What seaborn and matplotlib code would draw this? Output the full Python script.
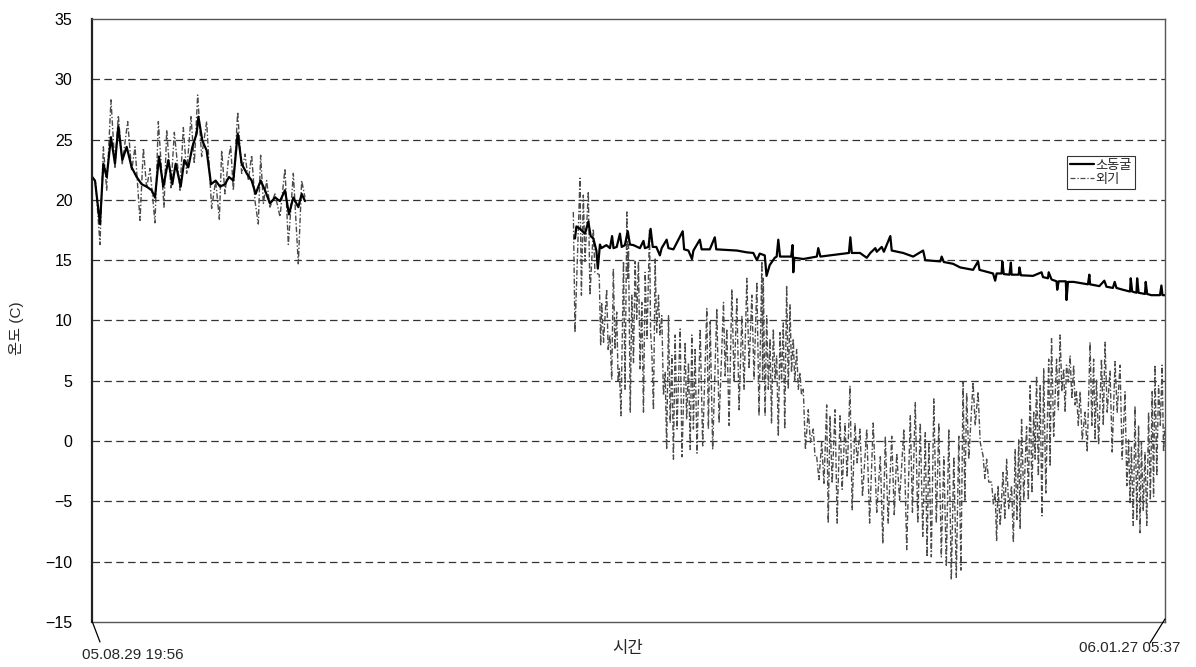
import pandas as pd
import matplotlib
matplotlib.use("Agg")
import matplotlib.pyplot as plt
from matplotlib.lines import Line2D
import seaborn as sns

# 측정 시작 / 끝
start = pd.Timestamp("2005-08-29 19:56")
end = pd.Timestamp("2006-01-27 05:37")

# 1구간 (8월 말 ~ 9월 말), 시작부터 경과 일수
out1_day = [0.0, 0.5, 1.12, 1.59, 2.06, 2.66, 3.22, 3.69, 4.25, 5.0, 5.56, 6.03, 6.73, 7.2,
            7.66, 8.13, 8.83, 9.3, 10.09, 10.47, 11.07, 11.54, 12.34, 12.8, 13.27, 13.88,
            14.34, 14.81, 15.37, 16.07, 16.77, 17.33, 17.85, 18.18, 18.64, 19.11, 19.44,
            19.81, 20.42, 20.98, 21.45, 21.91, 22.38, 22.85, 23.31, 23.64, 24.02, 24.48,
            24.95, 25.65, 26.35, 27.05, 27.52, 28.22, 28.92, 29.39, 29.86]
out1_temp = [22.0, 21.5, 16.3, 24.4, 20.8, 28.3, 22.7, 27.0, 23.0, 26.5, 22.4, 24.4, 18.3, 24.3,
             21.0, 22.6, 18.1, 26.5, 19.4, 25.8, 21.0, 25.6, 20.8, 26.0, 22.2, 26.9,
             23.0, 28.7, 23.6, 26.5, 19.3, 21.6, 18.4, 24.1, 20.5, 23.3, 24.5,
             20.8, 27.3, 22.2, 23.8, 21.6, 23.7, 19.9, 18.0, 23.7, 19.7, 21.6,
             19.4, 20.5, 18.6, 22.6, 16.3, 22.2, 14.7, 21.6, 20.2]

cave1_day = [0.0, 0.42, 1.12, 1.59, 2.06, 2.66, 3.22, 3.69, 4.25, 4.86, 5.56, 6.26, 6.96, 7.66,
             8.36, 8.83, 9.39, 10.0, 10.7, 11.26, 11.73, 12.43, 12.94, 13.5, 14.07, 14.67,
             14.91, 15.47, 16.07, 16.68, 17.33, 17.95, 18.64, 19.2, 19.81, 20.42, 20.98,
             21.68, 22.38, 22.94, 23.64, 24.25, 24.95, 25.65, 26.35, 27.05, 27.61, 28.22,
             28.92, 29.39, 29.86]
cave1_temp = [21.9, 21.6, 18.0, 23.0, 21.9, 25.2, 23.0, 26.1, 23.3, 24.4, 22.7, 21.9, 21.3, 21.1,
              20.8, 20.2, 23.6, 21.1, 23.3, 21.3, 23.0, 21.1, 23.3, 22.7, 24.4, 25.5,
              26.9, 24.9, 24.1, 21.3, 21.6, 21.1, 21.3, 21.9, 21.6, 25.5, 23.0,
              22.2, 21.6, 20.5, 21.6, 20.8, 19.7, 20.2, 19.9, 20.8, 18.8, 20.2,
              19.4, 20.5, 19.9]

# 2구간 (11월 초 ~ 1월 말)
cave2_day = [67.7, 67.9, 68.4, 69.1, 69.57, 69.9, 70.27, 70.7, 70.9, 71.2, 71.4, 72.1, 72.6,
             72.9, 73.1, 73.55, 74.0, 74.25, 74.7, 75.1, 75.4, 75.9, 76.8, 77.3, 77.5, 78.0,
             78.3, 78.6, 79.1, 79.6, 79.85, 80.55, 80.8, 81.5, 82.8, 83.0, 83.6, 84.1, 84.3,
             85.2, 85.45, 86.6, 87.3, 87.5, 88.95, 90.4, 91.8, 92.7, 93.2, 93.6, 94.3, 94.55,
             95.0, 95.7, 95.97, 96.2, 96.44, 96.7, 98.0, 98.2, 98.3, 98.45, 99.7, 101.6,
             101.8, 102.1, 104.85, 106.1, 106.3, 106.5, 107.65, 108.6, 109.1, 109.8, 110.0,
             110.7, 111.0, 111.9, 112.1, 113.7, 115.1, 116.5, 116.8, 118.9, 119.1, 119.4,
             120.7, 121.7, 123.5, 124.2, 124.4, 126.3, 126.6, 126.8, 127.5, 127.6, 127.8,
             128.6, 128.8, 128.9, 129.9, 130.0, 130.2, 131.9, 133.1, 133.3, 134.0, 134.1,
             134.5, 135.2, 135.3, 135.5, 136.5, 136.6, 136.8, 137.6, 139.6, 139.8, 139.9,
             141.2, 141.9, 142.2, 143.1, 143.35, 143.6, 144.5, 145.5, 145.6, 145.8, 146.4,
             146.5, 146.7, 147.6, 147.7, 147.9, 148.5, 149.7, 149.9, 150.05, 150.4]
cave2_temp = [16.8, 17.8, 17.6, 17.2, 18.2, 17.0, 16.8, 15.8, 14.3, 16.3, 16.0, 16.25, 16.0,
              17.0, 16.0, 16.1, 17.2, 16.1, 16.25, 17.4, 16.3, 16.25, 16.0, 16.6, 16.0, 16.1,
              17.6, 16.1, 16.1, 15.4, 16.0, 16.7, 16.0, 15.9, 17.4, 15.9, 15.8, 15.1, 15.8,
              16.7, 15.9, 15.9, 16.9, 15.9, 15.85, 15.8, 15.65, 15.6, 15.0, 15.55, 15.4, 13.7,
              14.6, 15.2, 15.3, 16.7, 15.3, 15.3, 15.3, 16.25, 14.0, 15.2, 15.1, 15.3,
              16.0, 15.3, 15.5, 15.6, 16.9, 15.6, 15.6, 15.2, 15.6, 16.0, 15.7,
              16.1, 15.7, 17.0, 15.8, 15.6, 15.3, 15.8, 15.0, 14.9, 15.3, 14.85,
              14.7, 14.4, 14.2, 14.9, 14.2, 13.9, 13.3, 13.9, 13.9, 14.9, 13.85,
              13.8, 14.8, 13.8, 13.8, 14.4, 13.75, 13.7, 14.0, 13.6, 13.5, 14.0,
              13.4, 13.25, 12.55, 13.25, 13.25, 11.7, 13.2, 13.2, 13.0, 13.8, 13.0,
              12.85, 13.3, 12.8, 12.7, 13.2, 12.7, 12.55, 12.4, 13.5, 12.4, 12.3,
              13.5, 12.3, 12.2, 13.2, 12.2, 12.1, 12.1, 12.9, 12.1, 12.1]

out_nov_day = [67.47, 67.7, 68.4, 68.6, 68.87, 69.1, 69.57, 69.8, 70.27, 70.5, 71.1, 71.3,
               71.44, 71.7, 72.14, 72.35, 72.6, 72.85, 73.08, 73.3, 73.55, 73.75, 73.92, 74.15,
               74.5, 74.72, 74.97, 75.1, 75.2, 75.45, 75.67, 75.9, 76.13, 76.35, 76.6, 76.82,
               77.07, 77.3, 77.54, 77.8, 78.15, 78.3, 78.47, 78.7, 78.94, 79.15, 79.41, 79.6,
               79.87, 80.1, 80.34, 80.55, 80.81, 81.05, 81.28, 81.5, 81.74, 82.0, 82.44, 82.7,
               83.14, 83.35, 83.61, 83.85, 84.08, 84.3, 84.54, 84.8, 85.25, 85.6, 86.18, 86.4,
               86.65, 87.0, 87.58, 87.9, 88.52, 88.75, 88.98, 89.3, 89.69, 90.0, 90.39, 90.7,
               91.09, 91.4, 91.79, 92.1, 92.49, 92.8, 93.19, 93.5, 93.9, 94.0]
out_nov_temp = [19.0, 9.0, 21.8, 12.1, 20.4, 14.9, 20.7, 12.1, 17.6, 14.0, 13.8, 7.9,
                11.5, 8.2, 12.6, 7.6, 8.8, 5.1, 14.3, 7.6, 10.7, 4.9, 6.0, 2.1,
                14.9, 4.3, 19.0, 13.5, 16.3, 2.4, 12.1, 6.5, 14.9, 10.1, 14.9, 6.0,
                11.5, 2.4, 14.0, 8.5, 17.6, 9.0, 7.4, 2.6, 15.1, 9.0, 12.1, 8.8,
                10.4, 3.8, 5.7, -0.7, 10.4, 1.5, 7.1, -1.5, 8.8, 1.0, 9.3, -1.3,
                8.2, 1.8, 6.5, -0.7, 8.8, 1.0, 7.6, -1.0, 9.3, -0.4, 11.0, 1.0,
                9.9, -0.7, 11.0, 1.5, 11.5, 5.4, 9.3, 1.3, 12.6, 4.9, 11.8, 2.6,
                10.4, 4.3, 13.5, 6.0, 12.1, 5.1, 13.2, 2.1, 14.9, 5.1]

out_dec_day = [94.1, 94.35, 94.57, 94.8, 95.04, 95.25, 95.5, 95.75, 95.97, 96.2, 96.44, 96.65,
               96.9, 97.1, 97.37, 97.6, 97.84, 98.05, 98.3, 98.5, 98.77, 99.0, 99.24, 99.45,
               99.7, 100.0, 100.4, 100.7, 101.1, 101.35, 101.58, 101.9, 102.28, 102.6, 102.98,
               103.2, 103.45, 103.75, 104.15, 104.45, 104.85, 105.15, 105.55, 105.85, 106.25,
               106.55, 106.95, 107.25, 107.65, 108.0, 108.6, 109.0, 109.5, 110.0, 110.5,
               110.85, 111.2, 111.6, 112.1, 112.45, 112.8, 113.2, 113.8, 114.2, 114.7, 115.0,
               115.4, 115.75, 116.1, 116.45, 116.8, 117.05, 117.3, 117.65, 118.0, 118.35,
               118.7, 119.05, 119.4, 119.75, 120.1, 120.45, 120.8, 121.15, 121.5, 121.8]
out_dec_temp = [13.5, 2.1, 10.4, 4.3, 8.5, 1.5, 9.3, 5.1, 7.1, 0.4, 9.0, 4.9,
                9.8, 1.0, 12.9, 4.3, 11.3, 5.7, 8.5, 4.9, 7.6, 4.3, 5.7, 3.8,
                4.3, -0.7, 2.6, -0.1, 1.0, -1.3, -1.3, -3.2, -0.1, -3.5, 3.0,
                -6.8, 2.1, -3.5, 2.6, -6.8, 2.1, -4.0, 1.5, -3.0, 4.6,
                -5.7, 1.5, -1.8, 1.0, -4.6, 1.0, -6.8, 1.5, -5.9, -1.3,
                -8.5, 0.4, -6.8, 0.4, -6.1, -1.0, -4.9, 1.0, -9.0, 2.1, -5.9,
                3.2, -6.8, 1.5, -7.9, 0.7, -9.6, -0.1, -9.6, 3.5, -6.8,
                1.5, -9.6, -1.3, -10.4, 1.0, -11.5, -1.3, -11.3, 0.4, -10.7]

out_jan_day = [122.1, 122.35, 122.6, 122.9, 123.5, 123.8, 124.2, 124.5, 124.9, 125.15, 125.4,
               125.7, 126.1, 126.35, 126.6, 126.8, 127.0, 127.3, 127.7, 127.95, 128.2, 128.5,
               128.9, 129.15, 129.4, 129.65, 129.9, 130.1, 130.3, 130.6, 131.0, 131.25, 131.5,
               131.75, 132.0, 132.2, 132.4, 132.65, 132.9, 133.15, 133.4, 133.7, 134.1, 134.3,
               134.5, 134.8, 135.2, 135.45, 135.7, 135.95, 136.2, 136.4, 136.6, 136.85, 137.1,
               137.35, 137.6, 137.8, 138.0, 138.25, 138.5, 138.8, 139.2, 139.5, 139.9, 140.15,
               140.4, 140.6, 140.8, 141.1, 141.5, 141.75, 142.0, 142.3, 142.7, 143.0, 143.4,
               143.7, 144.1, 144.4, 144.8, 145.05, 145.3, 145.5, 145.7, 145.95, 146.2, 146.45,
               146.7, 146.9, 147.1, 147.35, 147.6, 147.85, 148.1, 148.35, 148.6, 148.8, 149.0,
               149.25, 149.5, 149.75, 150.0, 150.2, 150.4]
out_jan_temp = [4.9, -5.0, 4.0, -1.5, 4.9, 1.3, 4.1, -0.1, -1.2, -3.1, -1.5,
                -3.4, -3.4, -5.3, -4.3, -8.3, -3.7, -7.0, -2.6, -6.5, -1.5, -5.6,
                -3.7, -8.4, -0.7, -6.5, 0.1, -7.3, 1.8, -4.9, 1.2, -4.9, 4.6,
                -4.3, 2.4, -1.5, 5.4, -2.9, 4.6, -6.2, 6.0, -4.3, 6.8, -2.1,
                8.5, 0.4, 6.8, 2.6, 8.8, 4.1, 6.0, 2.4, 6.3, 4.9, 7.1,
                3.5, 6.3, 3.0, 4.1, 1.3, 4.1, 0.1, 2.4, -0.9, 8.2, 1.3,
                6.8, 0.1, 5.1, -0.3, 6.8, 1.3, 8.2, 2.4, 5.8, -0.9, 6.6,
                2.4, 6.3, -1.5, 4.1, -3.7, 0.1, -5.1, -0.5, -7.0, 2.9, -6.5,
                1.3, -7.6, -0.1, -5.8, -0.9, -7.0, 2.4, -4.9, 4.1, -4.6, 6.3,
                -2.9, 4.6, 1.3, 6.3, -0.9, 1.3]

series_names = ["소동굴", "외기"]
y_ticks = list(range(-15, 36, 5))


def make_frame():
    parts = [
        (out1_day, out1_temp, "외기", 1),
        (out_nov_day + out_dec_day + out_jan_day,
         out_nov_temp + out_dec_temp + out_jan_temp, "외기", 2),
        (cave1_day, cave1_temp, "소동굴", 1),
        (cave2_day, cave2_temp, "소동굴", 2),
    ]
    frames = []
    for days, temps, name, seg in parts:
        assert len(days) == len(temps)
        frames.append(pd.DataFrame({
            "시간": start + pd.to_timedelta(days, unit="D"),
            "온도": temps,
            "계열": name,
            "구간": seg,
        }))
    return pd.concat(frames, ignore_index=True)


df = make_frame()

sns.set_theme(style="white")
plt.rcParams["font.family"] = ["Liberation Sans", "Noto Sans CJK KR", "DejaVu Sans"]
plt.rcParams["axes.unicode_minus"] = True

fig = plt.figure(figsize=(11.96, 6.67), dpi=100)
ax = fig.add_axes([92 / 1196, 1 - 622 / 667, (1165 - 92) / 1196, (622 - 19) / 667])

dash_out = (4, 1.5, 1, 1.5)
sns.lineplot(data=df, x="시간", y="온도", hue="계열", style="계열", size="계열",
             units="구간", estimator=None, hue_order=["외기", "소동굴"],
             palette={"소동굴": "black", "외기": "#4a4a4a"},
             dashes={"소동굴": "", "외기": dash_out},
             sizes={"소동굴": 1.6, "외기": 1.0},
             legend=False, ax=ax)

ax.set_xlim(start, end)
ax.set_ylim(-15, 35)
ax.set_yticks(y_ticks)
ax.set_xticks([])
ax.set_xlabel("")
ax.set_ylabel("")
ax.tick_params(axis="y", length=0, pad=14, labelsize=11.5, labelcolor="black")

ax.grid(axis="y", linestyle=(0, (6, 3.5)), color="#333333", linewidth=0.9)
ax.grid(axis="x", visible=False)
glines = ax.get_ygridlines()
glines[0].set_visible(False)
glines[-1].set_visible(False)

for side in ["top", "right", "bottom"]:
    ax.spines[side].set_linestyle((0, (1, 1)))
    ax.spines[side].set_color("#555555")
    ax.spines[side].set_linewidth(1.0)
ax.spines["left"].set_color("#222222")
ax.spines["left"].set_linewidth(1.6)

handles = [Line2D([], [], color="black", lw=1.6),
           Line2D([], [], color="#4a4a4a", lw=0.9, linestyle=(0, dash_out))]
leg = ax.legend(handles, series_names, loc="upper right", bbox_to_anchor=(0.972, 0.772),
                fontsize=9.5, handlelength=1.8, handletextpad=0.1, borderpad=0.25,
                labelspacing=0.1, frameon=True, fancybox=False, borderaxespad=0)
leg.get_frame().set_edgecolor("black")
leg.get_frame().set_linewidth(0.8)

# 시작/끝 표시
fig.add_artist(Line2D([92 / 1196, 100 / 1196], [1 - 621 / 667, 1 - 642 / 667],
                      color="black", lw=0.9))
fig.add_artist(Line2D([1165 / 1196, 1150 / 1196], [1 - 619 / 667, 1 - 643 / 667],
                      color="black", lw=0.9))
fig.text(133 / 1196, 1 - 655 / 667, start.strftime("%y.%m.%d %H:%M"),
         ha="center", va="center", fontsize=11)
fig.text(1130 / 1196, 1 - 648 / 667, end.strftime("%y.%m.%d %H:%M"),
         ha="center", va="center", fontsize=11)
fig.text(628 / 1196, 1 - 649 / 667, "시간", ha="center", va="center", fontsize=12)
fig.text(16 / 1196, 1 - 328 / 667, "온도 (C)", ha="center", va="center",
         rotation=90, fontsize=11)

fig.savefig("out.png", dpi=100)
